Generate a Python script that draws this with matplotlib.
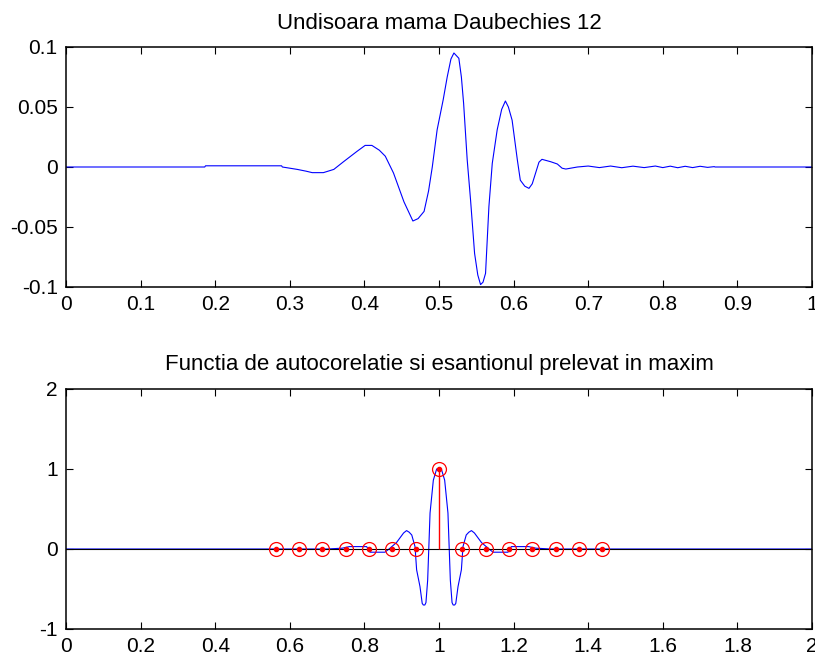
import matplotlib
matplotlib.use('Agg')
import matplotlib.pyplot as plt

plt.rcParams['font.family'] = ['Liberation Sans', 'DejaVu Sans']
plt.rcParams['axes.unicode_minus'] = False

# Daubechies 12 mother wavelet, support scaled to [0, 1]
psi_t = [0.0, 0.186, 0.187, 0.289, 0.29, 0.31, 0.322, 0.33, 0.345, 0.359,
         0.372, 0.39, 0.401, 0.41, 0.42, 0.428, 0.439, 0.453, 0.465, 0.472,
         0.48, 0.486, 0.491, 0.4975, 0.5056, 0.511, 0.516, 0.52, 0.5266, 0.53,
         0.533, 0.5378, 0.5423, 0.5477, 0.552, 0.5557, 0.559, 0.5624, 0.5669, 0.5714,
         0.578, 0.584, 0.589, 0.593, 0.598, 0.605, 0.609, 0.615, 0.6206, 0.625,
         0.6295, 0.634, 0.638, 0.6497, 0.6586, 0.665, 0.67, 0.6855, 0.7, 0.715,
         0.73, 0.745, 0.76, 0.775, 0.79, 0.8, 0.81, 0.82, 0.83, 0.84,
         0.85, 0.86, 0.869, 0.87, 1.0]
psi = [0.0, 0.0, 0.001, 0.001, 0.0, -0.002, -0.0035, -0.0047, -0.0047, -0.002,
       0.0044, 0.013, 0.018, 0.018, 0.014, 0.009, -0.005, -0.029, -0.045, -0.043,
       -0.037, -0.02, 0.0, 0.031, 0.056, 0.075, 0.09, 0.095, 0.0906, 0.075,
       0.053, 0.006, -0.0275, -0.072, -0.09, -0.098, -0.096, -0.0886, -0.033, 0.003,
       0.031, 0.048, 0.055, 0.05, 0.039, 0.006, -0.011, -0.016, -0.0178, -0.014,
       -0.005, 0.004, 0.0064, 0.0044, 0.0025, -0.001, -0.0017, 0.0, 0.0008, -0.0005,
       0.0008, -0.0006, 0.0007, -0.0005, 0.0008, -0.0005, 0.0007, -0.0006, 0.0006, -0.0005,
       0.0006, -0.0003, 0.0003, 0.0, 0.0]

# normalised autocorrelation over lags [0, 2]
ac_t = [0.0, 0.7, 0.74, 0.76, 0.806, 0.815, 0.855, 0.866, 0.886, 0.905,
        0.913, 0.92, 0.927, 0.9357, 0.94, 0.949, 0.955, 0.958, 0.962, 0.965,
        0.9696, 0.976, 0.9848, 0.9937, 1.0, 1.0063, 1.0152, 1.024, 1.0304, 1.035,
        1.038, 1.042, 1.045, 1.051, 1.06, 1.0643, 1.073, 1.08, 1.087, 1.095,
        1.114, 1.134, 1.145, 1.185, 1.194, 1.24, 1.26, 1.3, 2.0]
ac = [0.0, 0.0, 0.01, 0.03, 0.03, -0.04, -0.04, 0.0, 0.08, 0.2,
      0.23, 0.21, 0.175, 0.03, -0.26, -0.47, -0.68, -0.7, -0.7, -0.67,
      -0.39, 0.45, 0.86, 1.0, 1.0, 1.0, 0.86, 0.45, -0.39, -0.67,
      -0.7, -0.7, -0.68, -0.47, -0.26, 0.03, 0.175, 0.21, 0.23, 0.2,
      0.08, 0.0, -0.04, -0.04, 0.03, 0.03, 0.01, 0.0, 0.0]

# samples taken around the maximum
samp_t = [0.5625, 0.625, 0.6875, 0.75, 0.8125, 0.875, 0.9375, 1.0,
          1.0625, 1.125, 1.1875, 1.25, 1.3125, 1.375, 1.4375]
samp = [0, 0, 0, 0, 0, 0, 0, 1, 0, 0, 0, 0, 0, 0, 0]

W, H = 815, 658
fig = plt.figure(figsize=(W / 100, H / 100), dpi=100)
ax1 = fig.add_axes([66 / W, 1 - 287 / H, 746 / W, 240 / H])
ax2 = fig.add_axes([66 / W, 1 - 629 / H, 746 / W, 240 / H])

ax1.plot(psi_t, psi, color='b', lw=0.8)
ax1.set_xlim(0, 1)
ax1.set_ylim(-0.1, 0.1)
ax1.set_xticks([0, 0.1, 0.2, 0.3, 0.4, 0.5, 0.6, 0.7, 0.8, 0.9, 1])
ax1.set_xticklabels(['0', '0.1', '0.2', '0.3', '0.4', '0.5', '0.6', '0.7', '0.8', '0.9', '1'])
ax1.set_yticks([-0.1, -0.05, 0, 0.05, 0.1])
ax1.set_yticklabels(['-0.1', '-0.05', '0', '0.05', '0.1'])
ax1.set_title('Undisoara mama Daubechies 12', fontsize=16, pad=13)

ax2.plot(ac_t, ac, color='b', lw=0.8)
ax2.axhline(0, color='k', lw=0.8)
ax2.vlines(samp_t, 0, samp, color='r', lw=1.0)
ax2.plot(samp_t, samp, 'o', mfc='none', mec='r', ms=10, mew=0.9)
ax2.plot(samp_t, samp, '.', color='r', ms=6)
ax2.set_xlim(0, 2)
ax2.set_ylim(-1, 2)
ax2.set_xticks([0, 0.2, 0.4, 0.6, 0.8, 1, 1.2, 1.4, 1.6, 1.8, 2])
ax2.set_xticklabels(['0', '0.2', '0.4', '0.6', '0.8', '1', '1.2', '1.4', '1.6', '1.8', '2'])
ax2.set_yticks([-1, 0, 1, 2])
ax2.set_yticklabels(['-1', '0', '1', '2'])
ax2.set_title('Functia de autocorelatie si esantionul prelevat in maxim', fontsize=16, pad=14)

for ax in (ax1, ax2):
    ax.tick_params(direction='in', top=True, right=True, length=5, width=0.8,
                   labelsize=15, pad=6)
    for s in ax.spines.values():
        s.set_linewidth(1.1)

fig.savefig('out.png', dpi=100)
